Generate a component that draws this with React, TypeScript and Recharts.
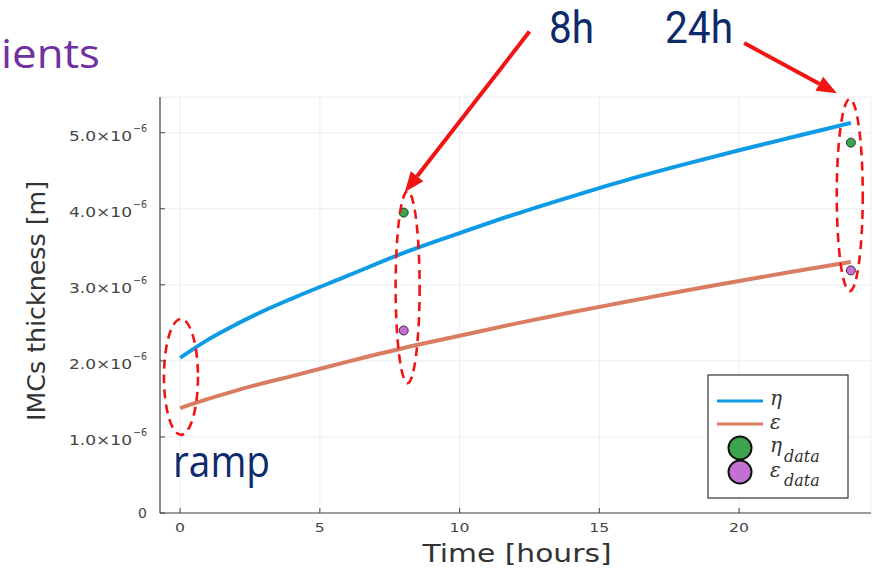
import React from "react";
import {
  ComposedChart,
  Line,
  Scatter,
  XAxis,
  YAxis,
  CartesianGrid,
  ReferenceDot,
  ReferenceLine,
} from "recharts";

// ---- data (thickness in metres, time in hours) ----
const times = [0, 1, 2, 3, 4, 6, 8, 10, 12, 14, 16, 18, 20, 22, 24];
const etaModel = [2.04e-6, 2.28e-6, 2.48e-6, 2.66e-6, 2.82e-6, 3.12e-6, 3.42e-6, 3.68e-6, 3.93e-6, 4.16e-6, 4.38e-6, 4.58e-6, 4.77e-6, 4.95e-6, 5.13e-6];
const epsModel = [1.38e-6, 1.5e-6, 1.61e-6, 1.71e-6, 1.8e-6, 1.99e-6, 2.17e-6, 2.33e-6, 2.49e-6, 2.64e-6, 2.78e-6, 2.92e-6, 3.05e-6, 3.18e-6, 3.3e-6];
const dataTimes = [8, 24];
const etaData = [3.95e-6, 4.87e-6];
const epsData = [2.4e-6, 3.19e-6];
const xTicks = [0, 5, 10, 15, 20];
const yTicks = [0, 1e-6, 2e-6, 3e-6, 4e-6, 5e-6];

const BLUE = "#0e9be6";
const SALMON = "#d97c62";
const GREEN = "#3da44d";
const PURPLE = "#c271d2";
const RED = "#f01414";
const NAVY = "#0d2a6a";

const chartData = times.map((t, i) => ({ t, eta: etaModel[i], eps: epsModel[i] }));
const etaPts = dataTimes.map((t, i) => ({ t, v: etaData[i] }));
const epsPts = dataTimes.map((t, i) => ({ t, v: epsData[i] }));

const YTick = (props: any) => {
  const { x, y, payload } = props;
  const v = payload.value as number;
  return (
    <g>
      <line x1={x} x2={x + 5} y1={y} y2={y} stroke="#444" strokeWidth={1} />
      {v === 0 ? (
        <text x={x - 13} y={y + 5} textAnchor="end" fontSize={14} fill="#444" fontFamily="DejaVu Sans">
          0
        </text>
      ) : (
        <g fontFamily="DejaVu Sans" fill="#444">
          <text x={x - 28} y={y + 8} textAnchor="end" fontSize={14} textLength={63} lengthAdjust="spacingAndGlyphs">
            {(v * 1e6).toFixed(1) + "×10"}
          </text>
          <text x={x - 27} y={y - 1} fontSize={10} textLength={14} lengthAdjust="spacingAndGlyphs">
            −6
          </text>
        </g>
      )}
    </g>
  );
};

const XTick = (props: any) => {
  const { x, y, payload } = props;
  const s = String(payload.value);
  return (
    <g>
      <line x1={x} x2={x} y1={y} y2={y - 5} stroke="#444" strokeWidth={1} />
      <text x={x} y={y + 19} textAnchor="middle" fontSize={13} fill="#444" fontFamily="DejaVu Sans" textLength={s.length * 10} lengthAdjust="spacingAndGlyphs">
        {s}
      </text>
    </g>
  );
};

const ellipseShape = (rx: number, ry: number) => (p: any) => (
  <ellipse cx={p.cx} cy={p.cy} rx={rx} ry={ry} fill="none" stroke={RED} strokeWidth={2.6} strokeDasharray="9 6" />
);

const arrowShape = (p: any) => {
  const { x1, y1, x2, y2 } = p;
  const dx = x2 - x1;
  const dy = y2 - y1;
  const len = Math.sqrt(dx * dx + dy * dy) || 1;
  const ux = dx / len;
  const uy = dy / len;
  const hl = 20;
  const hw = 8;
  const bx = x2 - ux * hl;
  const by = y2 - uy * hl;
  return (
    <g>
      <line x1={x1} y1={y1} x2={bx} y2={by} stroke={RED} strokeWidth={4} />
      <polygon
        points={`${x2},${y2} ${bx - uy * hw},${by + ux * hw} ${bx + uy * hw},${by - ux * hw}`}
        fill={RED}
      />
    </g>
  );
};

export default function App() {
  return (
    <div style={{ position: "absolute", left: 0, top: 0, width: 877, height: 570, background: "#fff" }}>
      <ComposedChart
        width={877}
        height={570}
        data={chartData}
        margin={{ top: 97, right: 6, bottom: 27, left: 0 }}
      >
        <CartesianGrid stroke="#ededed" strokeWidth={1} />
        <XAxis
          dataKey="t"
          type="number"
          domain={[-0.72, 24.72]}
          ticks={xTicks}
          height={30}
          tickSize={0}
          tickMargin={0}
          tickLine={false}
          axisLine={{ stroke: "#444", strokeWidth: 1.2 }}
          tick={<XTick />}
          allowDataOverflow
        />
        <YAxis
          type="number"
          domain={[0, 5.47e-6]}
          ticks={yTicks}
          width={160}
          tickSize={0}
          tickMargin={0}
          tickLine={false}
          axisLine={{ stroke: "#444", strokeWidth: 1.2 }}
          tick={<YTick />}
          allowDataOverflow
        />
        <Line type="monotone" dataKey="eta" stroke={BLUE} strokeWidth={4} dot={false} isAnimationActive={false} />
        <Line type="monotone" dataKey="eps" stroke={SALMON} strokeWidth={4} dot={false} isAnimationActive={false} />
        <Scatter data={etaPts} dataKey="v" fill={GREEN} shape={(p: any) => <circle cx={p.cx} cy={p.cy} r={4.5} fill={GREEN} stroke="#1d3b22" strokeWidth={1} />} isAnimationActive={false} />
        <Scatter data={epsPts} dataKey="v" fill={PURPLE} shape={(p: any) => <circle cx={p.cx} cy={p.cy} r={4.5} fill={PURPLE} stroke="#3b2540" strokeWidth={1} />} isAnimationActive={false} />
        <ReferenceDot x={0.03} y={1.79e-6} r={1} ifOverflow="visible" shape={ellipseShape(17, 58)} />
        <ReferenceDot x={8.14} y={2.97e-6} r={1} ifOverflow="visible" shape={ellipseShape(12, 96)} />
        <ReferenceDot x={23.96} y={4.18e-6} r={1} ifOverflow="visible" shape={ellipseShape(13, 96)} />
        <ReferenceLine segment={[{ x: 12.5, y: 6.33e-6 }, { x: 8.04, y: 4.22e-6 }]} ifOverflow="visible" shape={arrowShape} />
        <ReferenceLine segment={[{ x: 20.18, y: 6.18e-6 }, { x: 23.5, y: 5.52e-6 }]} ifOverflow="visible" shape={arrowShape} />
      </ComposedChart>
      <svg
        width={877}
        height={570}
        style={{ position: "absolute", left: 0, top: 0, pointerEvents: "none" }}
      >
        <text x={1} y={68} fontSize={40} fill="#7030a0" fontFamily="Open Sans" textLength={99} lengthAdjust="spacingAndGlyphs">
          ients
        </text>
        <text x={549} y={43} fontSize={44} fill={NAVY} fontFamily="Roboto" textLength={45} lengthAdjust="spacingAndGlyphs">
          8h
        </text>
        <text x={665} y={43} fontSize={44} fill={NAVY} fontFamily="Roboto" textLength={68} lengthAdjust="spacingAndGlyphs">
          24h
        </text>
        <text x={173} y={477} fontSize={44} fill={NAVY} fontFamily="Open Sans" textLength={97} lengthAdjust="spacingAndGlyphs">
          ramp
        </text>
        <text
          x={0}
          y={0}
          transform="translate(45,301) rotate(-90)"
          textAnchor="middle"
          fontSize={24}
          fill="#333"
          fontFamily="DejaVu Sans"
          textLength={240}
          lengthAdjust="spacingAndGlyphs"
        >
          IMCs thickness [m]
        </text>
        <text x={517} y={562} textAnchor="middle" fontSize={25} fill="#333" fontFamily="DejaVu Sans" textLength={189} lengthAdjust="spacingAndGlyphs">
          Time [hours]
        </text>
        {/* legend */}
        <rect x={708} y={375} width={140} height={123} fill="#fff" stroke="#333" strokeWidth={1.2} />
        <line x1={717} x2={763} y1={401} y2={401} stroke={BLUE} strokeWidth={3} />
        <text x={770} y={405} fontSize={20} fontStyle="italic" fontFamily="DejaVu Serif" fill="#333">η</text>
        <line x1={717} x2={763} y1={424} y2={424} stroke={SALMON} strokeWidth={3} />
        <text x={770} y={429} fontSize={20} fontStyle="italic" fontFamily="DejaVu Serif" fill="#333">ε</text>
        <circle cx={740} cy={448} r={11.5} fill={GREEN} stroke="#111" strokeWidth={2} />
        <circle cx={740} cy={472} r={11.5} fill={PURPLE} stroke="#111" strokeWidth={2} />
        <text x={770} y={452} fontSize={20} fontStyle="italic" fontFamily="DejaVu Serif" fill="#333">η</text>
        <text x={784} y={462} fontSize={16} fontStyle="italic" fontFamily="DejaVu Serif" fill="#333">data</text>
        <text x={770} y={477} fontSize={20} fontStyle="italic" fontFamily="DejaVu Serif" fill="#333">ε</text>
        <text x={784} y={486} fontSize={16} fontStyle="italic" fontFamily="DejaVu Serif" fill="#333">data</text>
      </svg>
    </div>
  );
}
